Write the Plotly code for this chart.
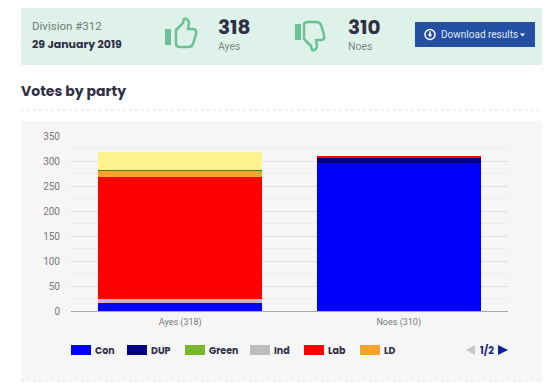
import plotly.graph_objects as go

categories = ["Ayes (318)", "Noes (310)"]
parties = ["Con", "DUP", "Green", "Ind", "Lab", "LD", "PC", "SNP"]
ayes = [17, 0, 0, 7, 244, 12, 3, 35]
noes = [297, 10, 0, 0, 3, 0, 0, 0]
colors = ["#0000ff", "#000080", "#78b82a", "#bdbdbd", "#ff0000", "#f9a32b", "#4f7a1a", "#fdf38e"]
legend_parties = ["Con", "DUP", "Green", "Ind", "Lab", "LD"]
legend_lefts = [71, 127, 185, 250, 304, 360]
y_ticks = [0, 50, 100, 150, 200, 250, 300, 350]

PAGE_W, PAGE_H = 550, 386
BODY_MARGIN = 8
L, R, T, B = 71, 508, 136, 311
TITLE = "Poppins, Lato, sans-serif"
BODY = "Roboto, sans-serif"
DARK = "#2f2f45"
GREY = "#777777"


def X(p):
    return (p - L) / (R - L)


def Y(p):
    return (B - p) / (B - T)


def rect(x0, y0, x1, y1, fill, layer="below", line=None):
    return dict(type="rect", xref="paper", yref="paper", x0=X(x0), x1=X(x1), y0=Y(y0), y1=Y(y1),
                fillcolor=fill, line=dict(width=0) if line is None else line, layer=layer)


def hline(y, x0, x1):
    return dict(type="line", xref="paper", yref="paper", x0=X(x0), x1=X(x1), y0=Y(y), y1=Y(y),
                line=dict(color="#e3e3e3", width=1, dash="dot"), layer="below")


def path(points, fill=None, stroke=None, width=0, close=True, layer="above"):
    parts = []
    for cmd in points:
        c, *v = cmd
        coords = []
        for i in range(0, len(v), 2):
            coords.append(f"{X(v[i]):.5f},{Y(v[i + 1]):.5f}")
        parts.append(c + " ".join(coords))
    d = " ".join(parts) + (" Z" if close else "")
    return dict(type="path", xref="paper", yref="paper", path=d,
                fillcolor=fill if fill else "rgba(0,0,0,0)",
                line=dict(color=stroke, width=width) if stroke else dict(width=0), layer=layer)


def text(px, py, s, size, color, bold=False, family=BODY, anchor="left"):
    return dict(xref="paper", yref="paper", x=X(px), y=Y(py), xanchor=anchor, yanchor="middle",
                text=f"<b>{s}</b>" if bold else s, showarrow=False,
                font=dict(size=size, color=color, family=family), align="left",
                borderpad=0, borderwidth=0)


GREEN = "#6cc097"
thumb_up = [("M", 176, 30), ("L", 183, 23), ("L", 184, 19), ("Q", 188, 18, 189, 23), ("L", 188, 29), ("L", 194, 29),
            ("Q", 197, 30, 196, 34), ("L", 193, 44), ("Q", 192, 47, 188, 47), ("L", 180, 47), ("Q", 176, 47, 176, 44)]
thumb_down = [(c, *[v + 128 if i % 2 == 0 else 69 - v for i, v in enumerate(vals)]) for c, *vals in thumb_up]

shapes = [
    rect(21, 7, 547, 65, "#dff2ea"),
    rect(21, 121, 548, 381, "#f7f6f7"),
    hline(110, 21, 548),
    hline(381, 21, 548),
    rect(165, 29, 171, 45, GREEN, layer="above"),
    path(thumb_up, stroke=GREEN, width=2.5),
    rect(295, 24, 301, 40, GREEN, layer="above"),
    path(thumb_down, stroke=GREEN, width=2.5),
    rect(415, 22, 535, 47, "#2450a4", layer="above"),
    dict(type="circle", xref="paper", yref="paper", x0=X(425), x1=X(435), y0=Y(29.5), y1=Y(39.5),
         fillcolor="rgba(0,0,0,0)", line=dict(color="white", width=1.5), layer="above"),
    path([("M", 430, 31.5), ("L", 430, 35.5)], stroke="white", width=1.5, close=False),
    path([("M", 427.8, 34.2), ("L", 432.2, 34.2), ("L", 430, 37.4)], fill="white"),
    path([("M", 520, 33.5), ("L", 525, 33.5), ("L", 522.5, 36.5)], fill="white"),
    path([("M", 475, 345), ("L", 475, 355), ("L", 466, 350)], fill="#c8c8c8"),
    path([("M", 498, 345), ("L", 498, 355), ("L", 508, 350)], fill="#0b1f9c"),
]

annotations = [
    text(32, 26, "Division #312", 11.5, "#6f7a78"),
    text(32, 44, "29 January 2019", 11, DARK, bold=True, family=TITLE),
    text(218, 27, "318", 20, DARK, bold=True, family=TITLE),
    text(218, 47, "Ayes", 10.5, "#7d8a86"),
    text(348, 27, "310", 20, DARK, bold=True, family=TITLE),
    text(348, 47, "Noes", 10.5, "#7d8a86"),
    text(441, 34.5, "Download results", 10, "#dfe6f5"),
    text(21, 91, "Votes by party", 14, DARK, bold=True, family=TITLE),
    text(480, 350, "1/2", 10, "#1d2a80", bold=True, family=TITLE),
]

for party, left in zip(legend_parties, legend_lefts):
    shapes.append(rect(left, 345, left + 20, 355, colors[parties.index(party)], layer="above"))
    annotations.append(text(left + 24, 350, party, 9.5, DARK, bold=True, family=TITLE))

fig = go.Figure()
for i, party in enumerate(parties):
    fig.add_trace(go.Bar(
        name=party, x=categories, y=[ayes[i], noes[i]],
        marker=dict(color=colors[i], line=dict(width=0)),
    ))

fig.update_layout(
    width=PAGE_W - BODY_MARGIN, height=PAGE_H - BODY_MARGIN, autosize=False,
    barmode="stack", bargap=0.25,
    paper_bgcolor="white", plot_bgcolor="rgba(0,0,0,0)",
    margin=dict(l=L - BODY_MARGIN, r=PAGE_W - R, t=T - BODY_MARGIN, b=PAGE_H - B, pad=0),
    shapes=shapes, annotations=annotations,
    showlegend=False,
    xaxis=dict(tickfont=dict(size=9, color=GREY, family=BODY), showgrid=False, ticks="",
               showline=True, linecolor="#a8a8a8", linewidth=1, zeroline=False, ticklabelstandoff=2),
    yaxis=dict(range=[0, 350], tickvals=y_ticks, tickfont=dict(size=10, color=GREY, family=BODY),
               showgrid=True, gridcolor="#e2dfe2", gridwidth=1, zeroline=False, ticks="",
               minor=dict(dtick=25, showgrid=True, gridcolor="#efecef", gridwidth=1), ticklabelstandoff=10),
)

fig.write_html("out.html", config={"displayModeBar": False})
